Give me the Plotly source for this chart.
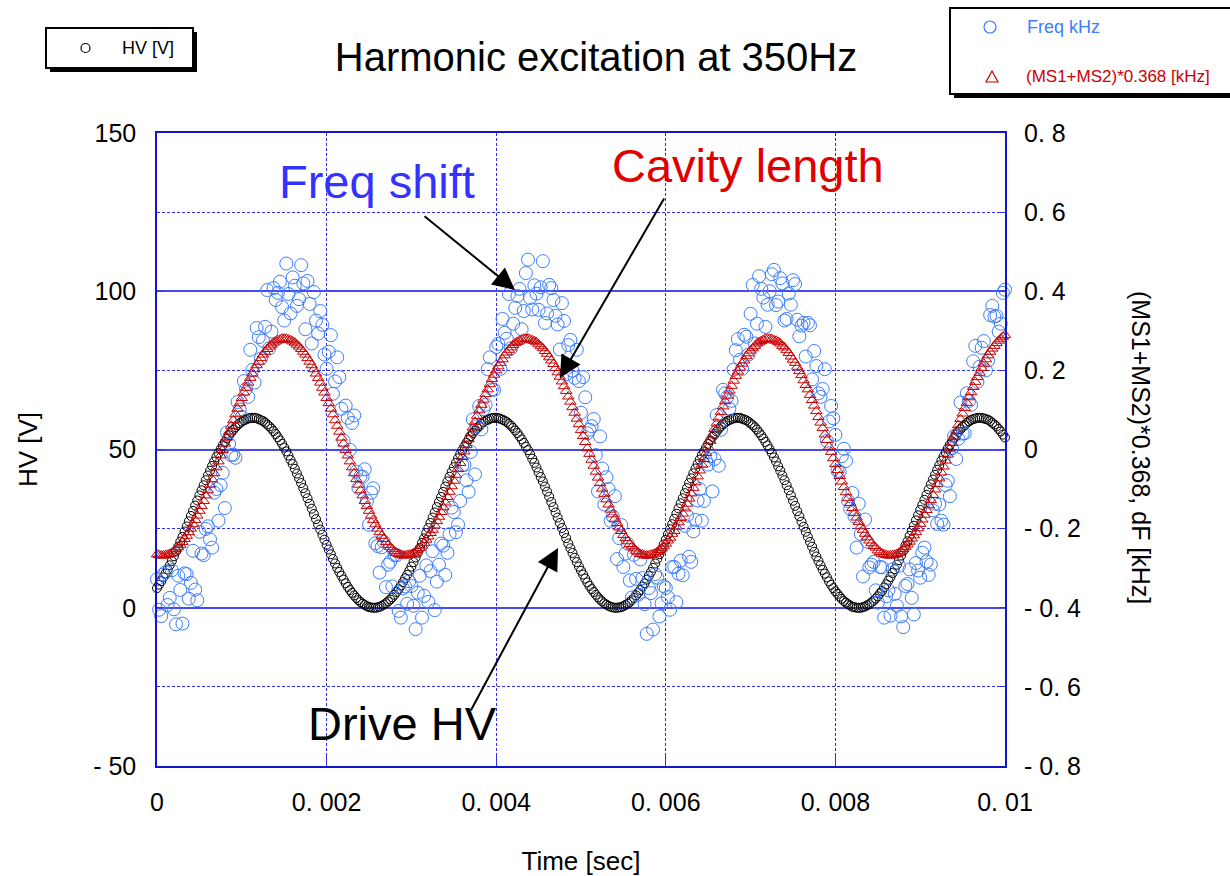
import plotly.graph_objects as go

# ---------------- data ----------------
# Samples are every 25 us; "grid" lists hold the samples at 0, 50, 100 ... us,
# "mid" lists hold the samples that fall between them (25, 75, 125 ... us).
sample_step_s = 0.000025

hv_volts_grid = [
    6.2, 8.4, 10.8, 13.4, 16.3, 19.3, 22.4, 25.7, 29.0, 32.3,
    35.5, 38.7, 41.8, 44.8, 47.6, 50.1, 52.4, 54.5, 56.2, 57.7,
    58.8, 59.5, 59.9, 60.0, 59.6, 59.0, 57.9, 56.6, 54.9, 52.9,
    50.6, 48.1, 45.4, 42.4, 39.4, 36.2, 32.9, 29.6, 26.3, 23.1,
    19.9, 16.9, 14.0, 11.3, 8.9, 6.6, 4.7, 3.1, 1.8, 0.9,
    0.2, 0.0, 0.1, 0.6, 1.4, 2.6, 4.1,
    5.9, 8.1, 10.4, 13.0, 15.9, 18.9, 21.9, 25.2, 28.5, 31.8,
    35.0, 38.3, 41.4, 44.4, 47.2, 49.8, 52.1, 54.2, 56.0, 57.5,
    58.7, 59.4, 59.9, 60.0, 59.7, 59.1, 58.1, 56.8, 55.2, 53.2,
    50.9, 48.5, 45.8, 42.8, 39.9, 36.7, 33.4, 30.1, 26.8, 23.6,
    20.3, 17.3, 14.4, 11.7, 9.2, 6.9, 5.0, 3.3, 2.0, 1.0,
    0.3, 0.0, 0.1, 0.5, 1.3, 2.4, 3.9,
    5.6, 7.7, 10.1, 12.6, 15.5, 18.4, 21.5, 24.8, 28.1, 31.4,
    34.6, 37.8, 40.9, 44.0, 46.8, 49.4, 51.8, 54.0, 55.7, 57.3,
    58.5, 59.3, 59.8, 60.0, 59.7, 59.2, 58.2, 57.0, 55.4, 53.5,
    51.3, 48.9, 46.2, 43.3, 40.3, 37.1, 33.8, 30.5, 27.2, 24.0,
    20.8, 17.7, 14.8, 12.0, 9.6, 7.2, 5.2, 3.5, 2.1, 1.1,
    0.3, 0.0, 0.0, 0.4, 1.1, 2.2, 3.6,
    5.3, 7.4, 9.7, 12.2, 15.0, 18.0, 21.0, 24.3, 27.6, 30.9,
    34.1, 37.4, 40.5, 43.6, 46.5, 49.1, 51.5, 53.7, 55.5, 57.2,
    58.4, 59.3, 59.8, 60.0, 59.8, 59.4, 58.4, 57.3, 55.7, 53.8,
]
hv_volts_mid = [
    7.3, 9.6, 12.1, 14.8, 17.8, 20.9, 24.1, 27.3, 30.6, 33.9,
    37.1, 40.3, 43.3, 46.2, 48.9, 51.3, 53.5, 55.4, 57.0, 58.3,
    59.2, 59.8, 60.0, 59.9, 59.3, 58.5, 57.3, 55.8, 53.9, 51.8,
    49.4, 46.7, 43.9, 40.9, 37.8, 34.6, 31.3, 28.0, 24.7, 21.5,
    18.4, 15.4, 12.6, 10.1, 7.7, 5.6, 3.9, 2.4, 1.3, 0.5,
    0.1, 0.0, 0.3, 1.0, 2.0, 3.3, 5.0,
    7.0, 9.3, 11.7, 14.4, 17.4, 20.5, 23.6, 26.8, 30.1, 33.4,
    36.6, 39.9, 42.9, 45.8, 48.5, 51.0, 53.2, 55.2, 56.8, 58.1,
    59.1, 59.7, 60.0, 59.9, 59.4, 58.7, 57.5, 56.0, 54.2, 52.1,
    49.8, 47.1, 44.3, 41.3, 38.3, 35.1, 31.8, 28.5, 25.2, 22.0,
    18.8, 15.8, 13.0, 10.5, 8.0, 5.9, 4.1, 2.6, 1.4, 0.6,
    0.1, 0.0, 0.2, 0.9, 1.8, 3.1, 4.7,
    6.7, 8.9, 11.3, 14.0, 16.9, 20.0, 23.2, 26.4, 29.7, 33.0,
    36.2, 39.4, 42.5, 45.4, 48.2, 50.6, 52.9, 54.9, 56.6, 58.0,
    59.0, 59.7, 60.0, 60.0, 59.5, 58.8, 57.7, 56.3, 54.5, 52.4,
    50.1, 47.5, 44.7, 41.8, 38.7, 35.5, 32.2, 28.9, 25.6, 22.4,
    19.3, 16.2, 13.4, 10.8, 8.3, 6.2, 4.4, 2.8, 1.6, 0.7,
    0.2, 0.0, 0.2, 0.8, 1.7, 2.9, 4.5,
    6.4, 8.6, 11.0, 13.6, 16.5, 19.6, 22.7, 25.9, 29.2, 32.5,
    35.7, 39.0, 42.0, 45.0, 47.8, 50.3, 52.6, 54.7, 56.4, 57.8,
    58.9, 59.6, 60.0, 60.0, 59.6, 59.0, 57.9, 56.5, 54.7,
]

cavity_khz_grid = [
    -0.265, -0.268, -0.267, -0.264, -0.257, -0.247, -0.234, -0.218, -0.200, -0.178,
    -0.155, -0.130, -0.103, -0.075, -0.045, -0.015, 0.015, 0.045, 0.074, 0.103,
    0.130, 0.156, 0.181, 0.203, 0.222, 0.240, 0.254, 0.265, 0.273, 0.278,
    0.280, 0.278, 0.273, 0.265, 0.254, 0.240, 0.222, 0.203, 0.181, 0.156,
    0.130, 0.103, 0.074, 0.045, 0.015, -0.015, -0.045, -0.075, -0.103, -0.130,
    -0.155, -0.178, -0.200, -0.218, -0.234, -0.247, -0.257,
    -0.264, -0.268, -0.267, -0.265, -0.258, -0.249, -0.236, -0.220, -0.203, -0.181,
    -0.158, -0.134, -0.107, -0.079, -0.049, -0.019, 0.011, 0.041, 0.070, 0.099,
    0.126, 0.152, 0.178, 0.200, 0.219, 0.238, 0.252, 0.264, 0.272, 0.278,
    0.280, 0.278, 0.274, 0.266, 0.256, 0.242, 0.225, 0.206, 0.184, 0.160,
    0.134, 0.107, 0.078, 0.049, 0.019, -0.011, -0.041, -0.071, -0.099, -0.126,
    -0.152, -0.175, -0.197, -0.216, -0.232, -0.245, -0.256,
    -0.264, -0.268, -0.268, -0.265, -0.259, -0.250, -0.238, -0.223, -0.206, -0.184,
    -0.162, -0.137, -0.111, -0.083, -0.053, -0.024, 0.006, 0.036, 0.066, 0.095,
    0.122, 0.149, 0.174, 0.197, 0.217, 0.236, 0.250, 0.262, 0.271, 0.277,
    0.280, 0.279, 0.275, 0.268, 0.258, 0.244, 0.227, 0.209, 0.188, 0.163,
    0.138, 0.111, 0.082, 0.054, 0.024, -0.006, -0.037, -0.067, -0.095, -0.123,
    -0.148, -0.172, -0.194, -0.213, -0.230, -0.244, -0.255,
    -0.263, -0.267, -0.268, -0.266, -0.261, -0.252, -0.240, -0.225, -0.209, -0.188,
    -0.165, -0.141, -0.115, -0.087, -0.058, -0.028, 0.002, 0.032, 0.062, 0.091,
    0.118, 0.145, 0.171, 0.194, 0.217, 0.238, 0.255, 0.269, 0.280, 0.289,
]
cavity_khz_mid = [
    -0.267, -0.268, -0.266, -0.261, -0.252, -0.241, -0.226, -0.209, -0.189, -0.167,
    -0.143, -0.116, -0.089, -0.060, -0.030, -0.001, 0.030, 0.060, 0.089, 0.117,
    0.144, 0.169, 0.192, 0.213, 0.231, 0.247, 0.260, 0.270, 0.276, 0.280,
    0.280, 0.276, 0.270, 0.260, 0.247, 0.231, 0.213, 0.192, 0.169, 0.144,
    0.117, 0.089, 0.060, 0.030, -0.001, -0.030, -0.060, -0.089, -0.116, -0.143,
    -0.167, -0.189, -0.209, -0.226, -0.241, -0.252, -0.261,
    -0.266, -0.268, -0.266, -0.262, -0.253, -0.243, -0.228, -0.211, -0.192, -0.170,
    -0.146, -0.120, -0.093, -0.064, -0.034, -0.005, 0.026, 0.056, 0.085, 0.113,
    0.140, 0.165, 0.189, 0.210, 0.228, 0.245, 0.258, 0.269, 0.275, 0.280,
    0.280, 0.276, 0.271, 0.261, 0.249, 0.233, 0.216, 0.195, 0.172, 0.148,
    0.121, 0.093, 0.064, 0.034, 0.003, -0.026, -0.056, -0.085, -0.112, -0.139,
    -0.164, -0.186, -0.206, -0.224, -0.239, -0.250, -0.260,
    -0.265, -0.268, -0.266, -0.263, -0.254, -0.245, -0.230, -0.213, -0.195, -0.173,
    -0.149, -0.124, -0.097, -0.068, -0.038, -0.009, 0.022, 0.052, 0.081, 0.109,
    0.136, 0.161, 0.186, 0.207, 0.225, 0.243, 0.256, 0.268, 0.274, 0.280,
    0.280, 0.276, 0.272, 0.262, 0.251, 0.235, 0.219, 0.198, 0.175, 0.152,
    0.125, 0.097, 0.068, 0.038, 0.007, -0.022, -0.052, -0.081, -0.108, -0.135,
    -0.161, -0.183, -0.203, -0.222, -0.237, -0.248, -0.259,
    -0.265, -0.268, -0.267, -0.264, -0.257, -0.246, -0.233, -0.217, -0.199, -0.177,
    -0.153, -0.128, -0.101, -0.073, -0.043, -0.013, 0.017, 0.047, 0.077, 0.105,
    0.132, 0.158, 0.183, 0.206, 0.228, 0.247, 0.262, 0.275, 0.285,
]

freq_khz_grid = [
    -0.328, -0.421, -0.310, -0.375, -0.404, -0.319, -0.440, -0.315, -0.337, -0.354,
    -0.208, -0.267, -0.194, -0.248, -0.100, -0.090, -0.148, 0.014, -0.013, 0.120,
    0.082, 0.153, 0.252, 0.169, 0.284, 0.275, 0.403, 0.298, 0.378, 0.424,
    0.326, 0.393, 0.435, 0.363, 0.466, 0.304, 0.368, 0.398, 0.293, 0.315,
    0.204, 0.289, 0.172, 0.183, 0.022, 0.080, 0.067, -0.056, -0.068, -0.050,
    -0.190, -0.098, -0.244, -0.247, -0.348, -0.284, -0.267, -0.408, -0.351, -0.390,
    -0.345, -0.454, -0.319, -0.370, -0.385, -0.257, -0.334, -0.238, -0.317, -0.214,
    -0.158, -0.190, -0.040, -0.078, -0.006, -0.063, 0.110, 0.102, 0.203, 0.152,
    0.259, 0.204, 0.295, 0.393, 0.318, 0.388, 0.304, 0.446, 0.383, 0.415,
    0.353, 0.476, 0.344, 0.408, 0.338, 0.253, 0.325, 0.264, 0.199, 0.252,
    0.093, 0.132, 0.050, 0.077, -0.106, -0.048, -0.070, -0.180, -0.118, -0.224,
    -0.297, -0.238, -0.374, -0.327, -0.278, -0.391, -0.350, -0.455, -0.324, -0.389,
    -0.350, -0.405, -0.297, -0.314, -0.318, -0.167, -0.284, -0.178, -0.100, -0.130,
    -0.038, -0.106, 0.087, 0.050, 0.142, 0.103, 0.202, 0.279, 0.204, 0.285,
    0.343, 0.268, 0.438, 0.384, 0.366, 0.443, 0.365, 0.433, 0.326, 0.394,
    0.428, 0.328, 0.313, 0.235, 0.314, 0.249, 0.142, 0.153, 0.022, 0.110,
    0.037, -0.056, 0.002, -0.130, -0.110, -0.248, -0.214, -0.177, -0.298, -0.284,
    -0.387, -0.298, -0.371, -0.420, -0.365, -0.294, -0.449, -0.340, -0.375, -0.287,
    -0.324, -0.248, -0.317, -0.154, -0.188, -0.180, -0.090, -0.118, 0.034, 0.027,
    0.040, 0.142, 0.113, 0.262, 0.209, 0.274, 0.225, 0.363, 0.338, 0.318, 0.404,
]
freq_khz_mid = [
    -0.405, -0.316, -0.393, -0.305, -0.442, -0.355, -0.313, -0.377, -0.256, -0.381,
    -0.263, -0.201, -0.227, -0.109, -0.180, -0.059, 0.043, -0.014, -0.021, 0.101,
    0.173, 0.133, 0.201, 0.307, 0.230, 0.310, 0.256, 0.408, 0.396, 0.360,
    0.470, 0.344, 0.414, 0.380, 0.420, 0.426, 0.268, 0.326, 0.350, 0.240,
    0.247, 0.141, 0.233, 0.103, 0.111, -0.001, 0.086, -0.097, -0.069, -0.130,
    -0.109, -0.237, -0.311, -0.233, -0.291, -0.346, -0.267, -0.425, -0.346, -0.333,
    -0.395, -0.362, -0.425, -0.293, -0.307, -0.406, -0.291, -0.243, -0.261, -0.147,
    -0.209, -0.130, -0.039, -0.107, 0.076, 0.059, 0.051, 0.113, 0.233, 0.151,
    0.267, 0.330, 0.280, 0.256, 0.358, 0.406, 0.350, 0.480, 0.354, 0.394,
    0.410, 0.320, 0.416, 0.378, 0.316, 0.370, 0.190, 0.277, 0.181, 0.173,
    0.183, 0.041, 0.059, -0.014, 0.033, -0.139, -0.100, -0.169, -0.277, -0.191,
    -0.263, -0.331, -0.266, -0.367, -0.325, -0.466, -0.363, -0.315, -0.422, -0.345,
    -0.373, -0.297, -0.386, -0.281, -0.193, -0.271, -0.207, -0.129, -0.180, -0.029,
    -0.017, -0.024, -0.041, 0.151, 0.133, 0.123, 0.251, 0.227, 0.290, 0.240,
    0.416, 0.318, 0.406, 0.310, 0.400, 0.454, 0.374, 0.420, 0.330, 0.366,
    0.418, 0.286, 0.320, 0.320, 0.177, 0.211, 0.133, 0.203, 0.071, 0.079,
    -0.054, -0.017, -0.029, -0.150, -0.169, -0.137, -0.321, -0.233, -0.291, -0.356,
    -0.297, -0.425, -0.356, -0.303, -0.395, -0.422, -0.345, -0.303, -0.417, -0.306,
    -0.261, -0.283, -0.291, -0.137, -0.139, -0.190, -0.079, 0.003, -0.024, 0.119,
    0.041, 0.123, 0.223, 0.171, 0.257, 0.200, 0.340, 0.336, 0.298, 0.396,
]


def merge(grid, mid):
    out = []
    for i, v in enumerate(grid):
        out.append(v)
        if i < len(mid):
            out.append(mid[i])
    return out


hv_volts = merge(hv_volts_grid, hv_volts_mid)
cavity_khz = merge(cavity_khz_grid, cavity_khz_mid)
freq_khz = merge(freq_khz_grid, freq_khz_mid)
time_s = [round(i * sample_step_s, 7) for i in range(len(hv_volts))]

x_tickvals = [0, 0.002, 0.004, 0.006, 0.008, 0.01]
x_ticktext = ["0", "0. 002", "0. 004", "0. 006", "0. 008", "0. 01"]
y_tickvals = [-50, 0, 50, 100, 150]
y_ticktext = ["- 50", "0", "50", "100", "150"]
y2_tickvals = [-0.8, -0.6, -0.4, -0.2, 0, 0.2, 0.4, 0.6, 0.8]
y2_ticktext = ["- 0. 8", "- 0. 6", "- 0. 4", "- 0. 2", "0", "0. 2", "0. 4", "0. 6", "0. 8"]

# ---------------- styling ----------------
W, H = 1230, 876
L, T, R, B = 157, 133, 225, 110
PW, PH = W - L - R, H - T - B
FONT = "Liberation Sans, Arial, sans-serif"
GRID_BLUE = "#2e2ef2"
SOLID_BLUE = "#4848ee"
BORDER_BLUE = "#1414cc"
FREQ_BLUE = "#3b7dff"
CAV_RED = "#cc0000"


def px(x):
    return (x - L) / PW


def py(y):
    return 1 - (y - T) / PH


fig = go.Figure()
fig.add_trace(go.Scatter(
    x=time_s, y=hv_volts, mode="markers", name="HV [V]",
    marker=dict(symbol="circle-open", size=9, color="black", line=dict(width=1)),
    cliponaxis=False, showlegend=False))
fig.add_trace(go.Scatter(
    x=time_s, y=freq_khz, mode="markers", name="Freq kHz", yaxis="y2",
    marker=dict(symbol="circle-open", size=13, color=FREQ_BLUE, line=dict(width=1)),
    cliponaxis=False, showlegend=False))
fig.add_trace(go.Scatter(
    x=time_s, y=cavity_khz, mode="markers", name="(MS1+MS2)*0.368 [kHz]", yaxis="y2",
    marker=dict(symbol="triangle-up-open", size=10, color=CAV_RED, line=dict(width=1)),
    cliponaxis=False, showlegend=False))

shapes = [
    # left legend box with shadow
    dict(type="rect", xref="paper", yref="paper", x0=px(50), x1=px(197), y0=py(72), y1=py(32),
         fillcolor="black", line=dict(width=0)),
    dict(type="rect", xref="paper", yref="paper", x0=px(46), x1=px(193), y0=py(68), y1=py(28),
         fillcolor="white", line=dict(color="black", width=2)),
    dict(type="circle", xref="paper", yref="paper", x0=px(81), x1=px(90), y0=py(52.5), y1=py(43.5),
         line=dict(color="black", width=1.2)),
    # right legend box with shadow
    dict(type="rect", xref="paper", yref="paper", x0=px(954), x1=px(1245), y0=py(98), y1=py(12),
         fillcolor="black", line=dict(width=0)),
    dict(type="rect", xref="paper", yref="paper", x0=px(950), x1=px(1245), y0=py(94), y1=py(8),
         fillcolor="white", line=dict(color="black", width=2)),
    dict(type="circle", xref="paper", yref="paper", x0=px(984), x1=px(996), y0=py(33), y1=py(21),
         line=dict(color=FREQ_BLUE, width=1.2)),
    dict(type="path", xref="paper", yref="paper",
         path=f"M {px(986)} {py(82)} L {px(998)} {py(82)} L {px(992)} {py(71)} Z",
         line=dict(color=CAV_RED, width=1.2)),
]

annotations = [
    # arrows
    dict(x=0.004222, y=100.4, xref="x", yref="y", ax=-92, ay=-75, text="", showarrow=True,
         arrowhead=2, arrowsize=2.2, arrowwidth=2, arrowcolor="black"),
    dict(x=0.004752, y=72.6, xref="x", yref="y", ax=105, ay=-181, text="", showarrow=True,
         arrowhead=2, arrowsize=2.2, arrowwidth=2, arrowcolor="black"),
    dict(x=0.004729, y=18.9, xref="x", yref="y", ax=-88, ay=164, text="", showarrow=True,
         arrowhead=2, arrowsize=2.2, arrowwidth=2, arrowcolor="black"),
    # callout labels
    dict(x=px(377), y=py(181), xref="paper", yref="paper", text="Freq shift", showarrow=False,
         font=dict(family=FONT, size=47, color="#3333ff"), xanchor="center", yanchor="middle"),
    dict(x=px(748), y=py(165), xref="paper", yref="paper", text="Cavity length", showarrow=False,
         font=dict(family=FONT, size=47, color="#e00000"), xanchor="center", yanchor="middle"),
    dict(x=px(402), y=py(723), xref="paper", yref="paper", text="Drive HV", showarrow=False,
         font=dict(family=FONT, size=47, color="black"), xanchor="center", yanchor="middle"),
    # legend texts
    dict(x=px(120), y=py(48), xref="paper", yref="paper", text="HV [V]", showarrow=False,
         font=dict(family=FONT, size=18, color="black"), xanchor="left", yanchor="middle"),
    dict(x=px(1025), y=py(27), xref="paper", yref="paper", text="Freq kHz", showarrow=False,
         font=dict(family=FONT, size=18, color=FREQ_BLUE), xanchor="left", yanchor="middle"),
    dict(x=px(1024), y=py(77), xref="paper", yref="paper", text="(MS1+MS2)*0.368 [kHz]",
         showarrow=False, font=dict(family=FONT, size=17, color=CAV_RED),
         xanchor="left", yanchor="middle"),
    # right axis title (reads top to bottom)
    dict(x=px(1141), y=py(447), xref="paper", yref="paper", text="(MS1+MS2)*0.368, dF [kHz]",
         textangle=90, showarrow=False, font=dict(family=FONT, size=25, color="black"),
         xanchor="center", yanchor="middle"),
]

fig.update_layout(
    width=W, height=H,
    margin=dict(l=L, r=R, t=T, b=B, pad=0, autoexpand=False),
    paper_bgcolor="white", plot_bgcolor="white",
    font=dict(family=FONT, color="black"),
    title=dict(text="Harmonic excitation at 350Hz", x=596 / W, xanchor="center",
               y=1 - 57 / H, yanchor="middle", xref="container", yref="container",
               font=dict(family=FONT, size=40, color="black")),
    showlegend=False,
    xaxis=dict(range=[0, 0.01], tickvals=x_tickvals, ticktext=x_ticktext, automargin=False,
               ticks="inside", ticklen=12, tickcolor=GRID_BLUE, tickwidth=1,
               showline=True, mirror=True, linecolor=BORDER_BLUE, linewidth=1.5,
               showgrid=True, gridcolor=GRID_BLUE, gridwidth=1, griddash="3px,2px",
               zeroline=False, tickfont=dict(family=FONT, size=25, color="black"),
               ticklabelstandoff=13,
               title=dict(text="Time [sec]", font=dict(family=FONT, size=26, color="black"),
                          standoff=37)),
    yaxis=dict(range=[-50, 150], tickvals=y_tickvals, ticktext=y_ticktext, automargin=False,
               ticks="inside", ticklen=6, tickcolor=GRID_BLUE, tickwidth=1,
               showline=True, mirror=True, linecolor=BORDER_BLUE, linewidth=1.5,
               showgrid=True, gridcolor=SOLID_BLUE, gridwidth=1.5,
               minor=dict(tickvals=[-25, 25, 75, 125], showgrid=True, gridcolor=GRID_BLUE,
                          gridwidth=1, griddash="3px,2px", ticks=""),
               zeroline=False, tickfont=dict(family=FONT, size=25, color="black"),
               ticklabelstandoff=14,
               title=dict(text="HV [V]", font=dict(family=FONT, size=26, color="black"),
                          standoff=48)),
    yaxis2=dict(range=[-0.8, 0.8], overlaying="y", side="right", anchor="x", automargin=False,
                tickvals=y2_tickvals, ticktext=y2_ticktext,
                ticks="inside", ticklen=6, tickcolor=GRID_BLUE, tickwidth=1,
                showline=False, showgrid=False, zeroline=False,
                tickfont=dict(family=FONT, size=25, color="black"),
                ticklabelstandoff=18),
    shapes=shapes,
    annotations=annotations,
)

fig.write_html("out.html")
